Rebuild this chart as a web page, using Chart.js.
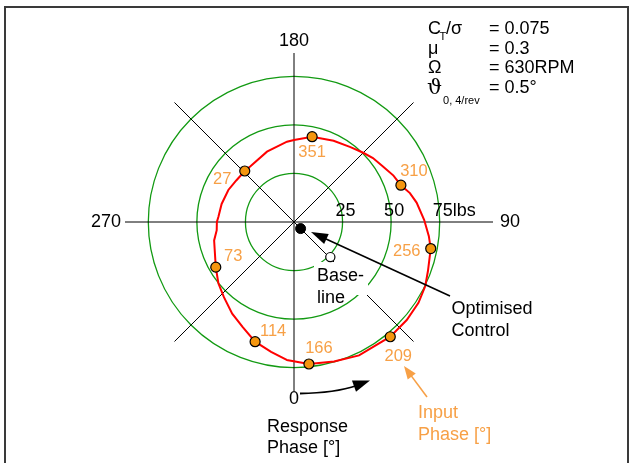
<!DOCTYPE html>
<html><head><meta charset="utf-8">
<script src="https://cdn.jsdelivr.net/npm/chart.js@4.4.1/dist/chart.umd.min.js"></script>
<style>
html,body{margin:0;padding:0;background:#fff;}
#wrap{position:relative;width:633px;height:463px;overflow:hidden;}
#frame{position:absolute;left:4px;top:6px;width:621px;height:600px;border:2px solid #3a3a3a;pointer-events:none;}
canvas{position:absolute;left:0;top:0;}
</style></head><body>
<div id="wrap"><canvas id="c" width="633" height="463"></canvas><div id="frame"></div></div>
<script>
// ---- data (response phase in degrees, magnitude in lbs) ----
const N = 360;
const phaseLabels = Array.from({length: N}, (_, i) => String((N - i) % N));
const curvePhase = [6,16,26,40,49,57,64,70,79,84,91,99,104,109,115,122,129,135,143,154,168,180,185,201,218,224,234,244,256,266,270,276,283,300,309,317,326,334,342,350,357];
const curveForce = [73.5,74.7,76.4,77.1,76.9,76.4,75.2,73.4,71.7,69.8,67.0,63.9,61.5,58.2,56.5,54.0,52.3,50.4,48.3,46.5,44.9,42.2,41.5,38.8,36.4,36.5,36.6,37.6,38.4,39.0,39.7,40.0,42.2,46.5,50.1,52.9,56.9,60.2,64.8,67.9,71.1];
const inputPhase = ['166','209','256','310','351','27','73','114'];
const respPhase  = [6,40,79,109,168,224,300,342];
const respForce  = [73.5,77.1,71.7,58.2,44.9,36.5,46.5,64.8];
const optPhase = [45], optForce = [4.8];
const basePhase = [46], baseForce = [26];
const ringValues = [25,50,75];
const tickLabels = ['25','50','75'];
const tickUnit = 'lbs';
const axisPhases = [0,90,180,270];

const GREEN = '#129a12', ORANGE_PT = '#F5960F', ORANGE_TX = '#F7A046';
const FAM = "'Liberation Sans', 'DejaVu Sans', Arial, sans-serif";
const F = s => s + 'px ' + FAM;
const idxOf = p => (N - Math.round(p) % N) % N;
function toSeries(ph, vals){ const a = new Array(N).fill(null); ph.forEach((p,i)=>{a[idxOf(p)] = vals[i];}); return a; }

function arrowHead(ctx, tx, ty, ux, uy, len, hw){
  const bx = tx-ux*len, by = ty-uy*len;
  ctx.beginPath(); ctx.moveTo(tx,ty);
  ctx.lineTo(bx-uy*hw, by+ux*hw); ctx.lineTo(bx+uy*hw, by-ux*hw);
  ctx.closePath(); ctx.fill();
}
function arrow(ctx, x0,y0,x1,y1,len,hw,color,lw){
  const dx=x1-x0, dy=y1-y0, L=Math.hypot(dx,dy), ux=dx/L, uy=dy/L;
  ctx.strokeStyle=color; ctx.fillStyle=color; ctx.lineWidth=lw;
  ctx.beginPath(); ctx.moveTo(x0,y0); ctx.lineTo(x1-ux*len*0.8, y1-uy*len*0.8); ctx.stroke();
  arrowHead(ctx,x1,y1,ux,uy,len,hw);
}

const annot = {
  id:'annot',
  beforeDatasetsDraw(chart){
    const ctx = chart.ctx, r = chart.scales.r;
    ctx.save();
    const a = r.getPointPosition(idxOf(90), r.drawingArea);
    const b = r.getPointPosition(idxOf(90), 199);
    ctx.strokeStyle='#000'; ctx.lineWidth=1;
    ctx.beginPath(); ctx.moveTo(a.x,a.y); ctx.lineTo(b.x,b.y); ctx.stroke();
    ctx.fillStyle='#fff'; ctx.fillRect(314,262,54,33);
    ctx.restore();
  },
  afterDatasetsDraw(chart){
    const ctx = chart.ctx, r = chart.scales.r;
    ctx.save();
    ctx.textAlign='left'; ctx.textBaseline='alphabetic'; ctx.fillStyle='#000';
    const axisDist = {0:182, 90:206, 180:176, 270:173};
    ctx.font = F(18);
    axisPhases.forEach(p=>{
      const pos = r.getPointPosition(idxOf(p), axisDist[p]);
      if (p===0 || p===180){ ctx.textAlign='center'; ctx.textBaseline='alphabetic'; }
      else if (p===90){ ctx.textAlign='left'; ctx.textBaseline='middle'; }
      else { ctx.textAlign='right'; ctx.textBaseline='middle'; }
      ctx.fillText(String(p), pos.x, pos.y);
    });
    ctx.textBaseline='alphabetic'; ctx.textAlign='left';
    ringValues.forEach((v,i)=>{
      const d = r.getDistanceFromCenterForValue(v);
      const w = ctx.measureText(tickLabels[i]).width;
      const x = r.xCenter + d + 3 - w/2, y = r.yCenter - 6;
      ctx.fillText(tickLabels[i] + (i===ringValues.length-1 ? tickUnit : ''), x, y);
    });
    const off = [[10,-15.5],[8,19.5],[-24,3],[13,-14],[0,16],[-22.5,8],[17.5,-10.5],[18,-10]];
    ctx.font = F(16.5); ctx.fillStyle = ORANGE_TX; ctx.textAlign='center'; ctx.textBaseline='middle';
    inputPhase.forEach((lab,i)=>{
      const pos = r.getPointPositionForValue(idxOf(respPhase[i]), respForce[i]);
      ctx.fillText(lab, pos.x+off[i][0], pos.y+off[i][1]);
    });
    ctx.fillStyle='#000'; ctx.textAlign='left'; ctx.textBaseline='alphabetic'; ctx.font=F(18);
    ctx.fillText('Base-', 317, 281); ctx.fillText('line', 317, 303);
    ctx.fillText('Optimised', 451.5, 314); ctx.fillText('Control', 451.5, 335.5);
    ctx.fillText('Response', 267, 431.5); ctx.fillText('Phase [°]', 267, 453);
    ctx.fillStyle=ORANGE_TX;
    ctx.fillText('Input', 418, 418); ctx.fillText('Phase [°]', 418, 440);
    arrow(ctx, 450, 296, 311, 232, 17, 5.5, '#000', 1.6);
    arrow(ctx, 427, 397, 404, 366, 13, 5, ORANGE_TX, 1.6);
    ctx.strokeStyle='#000'; ctx.fillStyle='#000'; ctx.lineWidth=1.8;
    ctx.beginPath(); ctx.moveTo(300,393.5); ctx.quadraticCurveTo(335,393,357,385.5); ctx.stroke();
    arrowHead(ctx, 370, 380.5, 0.942, -0.336, 17, 6);
    // parameter block
    ctx.fillStyle='#000'; ctx.font=F(18);
    ctx.fillText('C', 428, 34); ctx.font=F(11); ctx.fillText('T', 439.5, 39.5);
    ctx.font=F(18); ctx.fillText('/σ', 446, 34); ctx.fillText('= 0.075', 489, 34);
    ctx.fillText('μ', 428, 54); ctx.fillText('= 0.3', 489, 54);
    ctx.fillText('Ω', 428, 73); ctx.fillText('= 630RPM', 489, 73);
    ctx.font="21px 'DejaVu Serif', 'DejaVu Sans', serif";
    ctx.fillText('ϑ', 427, 93.5);
    const tw = ctx.measureText('ϑ').width;
    ctx.font=F(11); ctx.fillText('0, 4/rev', Math.max(427 + tw + 1, 440), 104);
    ctx.font=F(18); ctx.fillText('= 0.5°', 489, 93);
    ctx.restore();
  }
};

Chart.defaults.font.family = FAM;
new Chart(document.getElementById('c'), {
  type:'radar',
  data:{ labels: phaseLabels, datasets:[
    {label:'Optimised', data: toSeries(optPhase,optForce), showLine:false, borderWidth:0, fill:false,
     pointRadius:5, pointBackgroundColor:'#000', pointBorderColor:'#000', pointBorderWidth:1},
    {label:'Baseline', data: toSeries(basePhase,baseForce), showLine:false, borderWidth:0, fill:false,
     pointRadius:4.6, pointBackgroundColor:'#fff', pointBorderColor:'#000', pointBorderWidth:1.2},
    {label:'Input phase', data: toSeries(respPhase,respForce), showLine:false, borderWidth:0, fill:false,
     pointRadius:5, pointBackgroundColor:ORANGE_PT, pointBorderColor:'#000', pointBorderWidth:1.2},
    {label:'Response', data: toSeries(curvePhase,curveForce), borderColor:'#ff0000', borderWidth:2,
     backgroundColor:'rgba(0,0,0,0)', fill:false, pointRadius:0, spanGaps:true, tension:0}
  ]},
  options:{
    responsive:false, animation:false, events:[],
    layout:{padding:{left:125, top:53, right:170, bottom:72}},
    plugins:{legend:{display:false}, tooltip:{enabled:false}},
    scales:{ r:{
      min:0, max:87, startAngle:180,
      ticks:{display:false, stepSize:25},
      pointLabels:{display:false},
      grid:{circular:true,
        color: c => (c.tick && ringValues.includes(c.tick.value)) ? GREEN : 'rgba(0,0,0,0)',
        lineWidth: c => (c.tick && ringValues.includes(c.tick.value)) ? 1.3 : 0},
      angleLines:{display:true, color:'#000', lineWidth: c => (c.index % 45 === 0) ? 1 : 0}
    }}
  },
  plugins:[annot]
});
</script>
</body></html>
